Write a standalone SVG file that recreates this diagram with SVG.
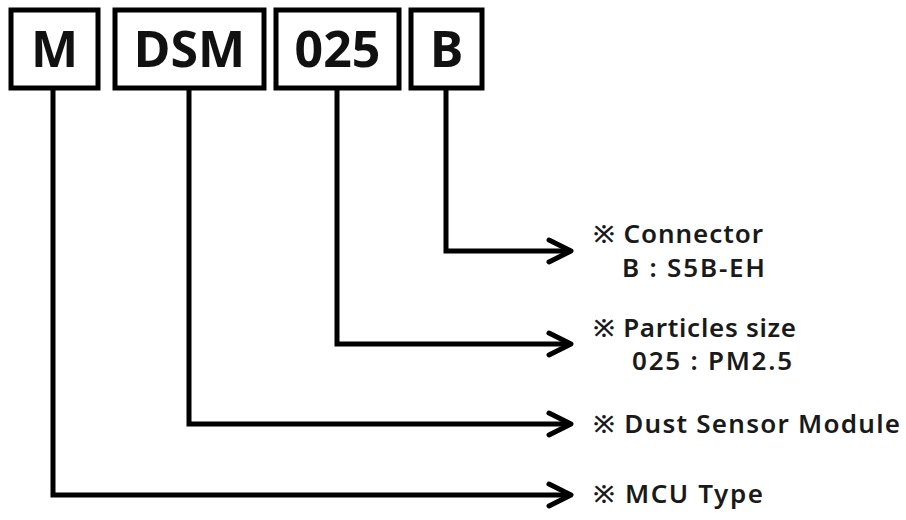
<svg xmlns="http://www.w3.org/2000/svg" width="906" height="520" viewBox="0 0 906 520">
<style>
.box{fill:#fff;stroke:#000;stroke-width:5}
.code{font-family:"Noto Sans","Liberation Sans",sans-serif;font-weight:700;font-size:50px;fill:#111;text-anchor:middle}
.lbl{font-family:"Noto Sans","Liberation Sans",sans-serif;font-weight:600;font-size:26px;fill:#1a1a1a}
.ln{fill:none;stroke:#000;stroke-width:5;stroke-linejoin:miter}
.ah{fill:none;stroke:#000;stroke-width:5;stroke-linecap:round;stroke-linejoin:round}
</style>
<rect width="906" height="520" fill="#fff"/>
<g id="node-M"><rect class="box" x="11" y="10" width="87" height="78"/><text class="code" x="54.5" y="67">M</text></g>
<g id="node-DSM"><rect class="box" x="115" y="10" width="149" height="78"/><text class="code" x="189.5" y="67">DSM</text></g>
<g id="node-025"><rect class="box" x="276" y="10" width="123" height="78"/><text class="code" x="337.5" y="67">025</text></g>
<g id="node-B"><rect class="box" x="411" y="10" width="71" height="78"/><text class="code" x="446.5" y="67">B</text></g>
<g id="connectors">
<polyline class="ln" points="446,88 446,251 570,251"/>
<polyline class="ah" points="549,240 571,251 549,262"/>
<polyline class="ln" points="337,88 337,344 570,344"/>
<polyline class="ah" points="549,333 571,344 549,355"/>
<polyline class="ln" points="189,88 189,424 570,424"/>
<polyline class="ah" points="549,413 571,424 549,435"/>
<polyline class="ln" points="53,88 53,495 570,495"/>
<polyline class="ah" points="549,484 571,495 549,506"/>
</g>
<g id="labels">
<text class="lbl" x="593" y="243" textLength="170" lengthAdjust="spacing">※ Connector</text>
<text class="lbl" x="622" y="277" textLength="143" lengthAdjust="spacing">B : S5B-EH</text>
<text class="lbl" x="593" y="337" textLength="203" lengthAdjust="spacing">※ Particles size</text>
<text class="lbl" x="632" y="370" textLength="160" lengthAdjust="spacing">025 : PM2.5</text>
<text class="lbl" x="593" y="433" textLength="307" lengthAdjust="spacing">※ Dust Sensor Module</text>
<text class="lbl" x="593" y="503" textLength="170" lengthAdjust="spacing">※ MCU Type</text>
</g>
</svg>
